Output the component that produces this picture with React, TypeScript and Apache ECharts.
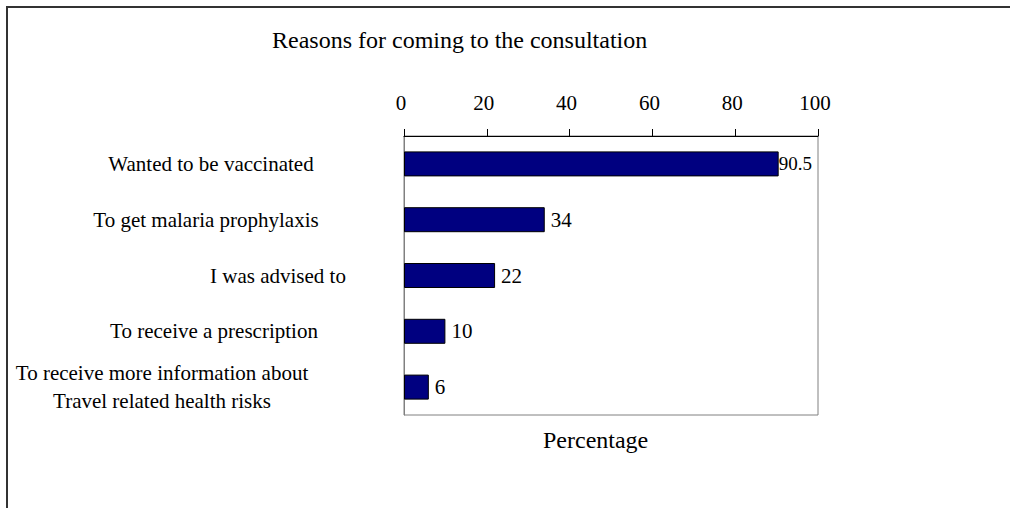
import React, { useEffect, useRef } from "react";
import * as echarts from "echarts";

const title = "Reasons for coming to the consultation";
const axisName = "Percentage";
const categories = [
  "Wanted to be vaccinated",
  "To get malaria prophylaxis",
  "I was advised to",
  "To receive a prescription",
  "To receive more information about\nTravel related health risks",
];
const values = [90.5, 34, 22, 10, 6];
const tickMin = 0;
const tickMax = 100;
const tickStep = 20;

// per-category label shift (left, right padding) to mimic the original placement
const labelPads: [number, number][] = [
  [0, 2],
  [0, 12],
  [132, 0],
  [4, 0],
  [0, 100],
];

const FONT = "'Liberation Serif', 'Times New Roman', serif";

export default function App() {
  const ref = useRef<HTMLDivElement>(null);
  useEffect(() => {
    if (!ref.current) return;
    const chart = echarts.init(ref.current, null, { renderer: "svg" });
    chart.setOption({
      animation: false,
      backgroundColor: "#ffffff",
      textStyle: { fontFamily: FONT },
      title: {
        text: title,
        left: 267,
        top: 23,
        textStyle: { fontFamily: FONT, fontSize: 24, fontWeight: "normal", color: "#000" },
      },
      graphic: [
        {
          type: "polyline",
          shape: { points: [[7, 508], [7, 7], [1010, 7]] },
          style: { stroke: "#333", lineWidth: 2, fill: "none" },
          silent: true,
        },
        {
          type: "text",
          left: 543,
          top: 428,
          style: { text: axisName, font: `24px ${FONT}`, fill: "#000" },
        },
      ],
      grid: {
        left: 404,
        right: 192,
        top: 136,
        bottom: 93,
        show: true,
        borderColor: "#808080",
        borderWidth: 1,
        containLabel: false,
      },
      xAxis: {
        type: "value",
        position: "top",
        min: tickMin,
        max: tickMax,
        interval: tickStep,
        axisLine: { show: true, lineStyle: { color: "#000", width: 1 } },
        axisTick: { show: true, length: 7, inside: false, lineStyle: { color: "#000" } },
        splitLine: { show: false },
        axisLabel: {
          fontFamily: FONT,
          fontSize: 21,
          color: "#000",
          margin: 23,
          padding: [0, 6, 0, 0],
        },
      },
      yAxis: {
        type: "category",
        inverse: true,
        data: categories.map((c, i) => ({
          value: c,
          textStyle: {
            align: "center",
            padding: [0, labelPads[i][1], 0, labelPads[i][0]],
          },
        })),
        axisLine: { show: true, lineStyle: { color: "#808080" } },
        axisTick: { show: false },
        splitLine: { show: false },
        axisLabel: {
          interval: 0,
          fontFamily: FONT,
          fontSize: 21,
          color: "#000",
          margin: 192,
          lineHeight: 28,
        },
      },
      series: [
        {
          type: "bar",
          barWidth: 25,
          data: values.map((v, i) =>
            i === 0 ? { value: v, label: { distance: 0, fontSize: 19 } } : v
          ),
          itemStyle: { color: "#000080", borderColor: "#000", borderWidth: 1 },
          label: {
            show: true,
            position: "right",
            distance: 6,
            fontFamily: FONT,
            fontSize: 21,
            color: "#000",
          },
        },
      ],
    });
    return () => chart.dispose();
  }, []);
  return (
    <div
      ref={ref}
      style={{ position: "fixed", left: 0, top: 0, width: 1010, height: 508 }}
    />
  );
}
